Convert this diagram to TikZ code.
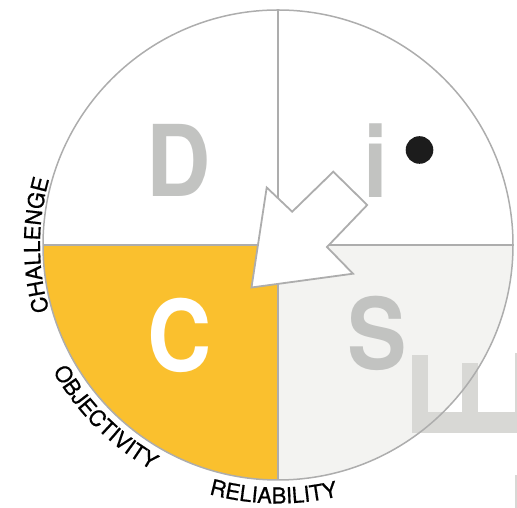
\documentclass[tikz,border=0pt]{standalone}
\usepackage{fontspec}
\setmainfont{TeX Gyre Heros}
\newfontfamily\bigletterfont[FakeStretch=0.9]{TeX Gyre Heros}
\newfontfamily\labelfont[FakeBold=0.6]{TeX Gyre Heros}
\usetikzlibrary{decorations.text}
\definecolor{cyel}{HTML}{FAC02E}
\definecolor{sgray}{HTML}{F3F3F1}
\definecolor{ringgray}{HTML}{ADADAD}
\definecolor{lettergray}{HTML}{C2C3C1}
\definecolor{shapegray}{HTML}{D8D8D5}
\definecolor{dotblack}{HTML}{1C1C1C}
\tikzset{
  ring/.style={draw=ringgray, line width=1.5pt},
  divider/.style={draw=ringgray, line width=1.3pt},
  bigletter/.style={font=\bigletterfont\bfseries\fontsize{99}{99}\selectfont, inner sep=0pt, text=lettergray},
  blockarrow/.style={draw=ringgray, fill=white, line width=1.8pt, line join=miter},
  curvedlabel/.style={decorate, decoration={text along path, text align=center, text={|\labelfont\fontsize{22}{24}\selectfont|#1}}}
}
\begin{document}
\begin{tikzpicture}[x=1pt,y=1pt]
\useasboundingbox (0,0) rectangle (517,508);
\coordinate (O) at (278,263);
% quadrant fills
\fill[cyel] (O) -- ++(180:235) arc (180:270:235) -- cycle;
\fill[sgray] (O) -- ++(270:235) arc (270:360:235) -- cycle;
% grey partial shape at lower right
\fill[shapegray] (411.7,75) rectangle (428.3,153);
\fill[shapegray] (461.7,75) rectangle (478.3,145);
\fill[shapegray] (411.7,75) rectangle (517,96.3);
\fill[shapegray] (515,75) rectangle (517,155);
\fill[shapegray] (515,0) rectangle (517,33);
% dividers
\coordinate (top) at (278,498);
\coordinate (bottom) at (278,28);
\coordinate (left) at (43,263);
\coordinate (right) at (513,263);
\draw[divider] (top) -- (bottom);
\draw[divider] (left) -- (right);
% circle
\draw[ring] (O) circle (235);
% letters
\node[bigletter] (D) at (179,347.5) {D};
\node[bigletter] (i) at (376,347) {i};
\node[bigletter, text=white] (C) at (180,173) {C};
\node[bigletter] (S) at (377.5,175) {S};
% dot
\fill[dotblack] (419.5,358) circle (13.8);
% block arrow
\draw[blockarrow] (251.5,220.5) -- (266.7,320.5) -- (292.2,296.3) -- (333.3,336.3)
  -- (367.2,303) -- (327,261) -- (353,234.3) -- cycle;
% curved labels
\path[curvedlabel=CHALLENGE] (O) ++(205:238) arc (205:155:238);
\path[curvedlabel=OBJECTIVITY] (O) ++(195:258) arc (195:255:258);
\path[curvedlabel=RELIABILITY] (O) ++(240:258.5) arc (240:298:258.5);
\end{tikzpicture}
\end{document}
